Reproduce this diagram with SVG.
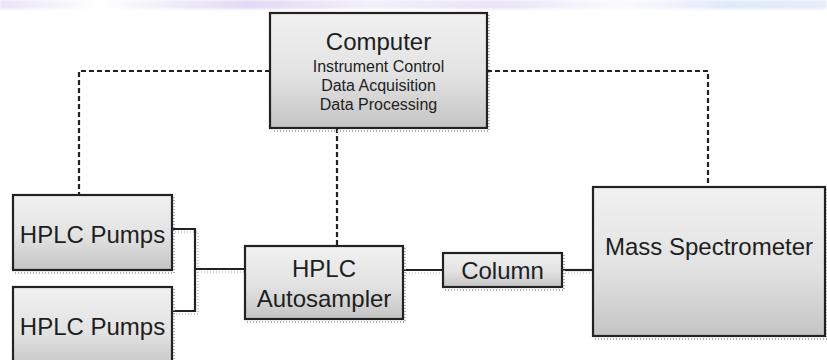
<svg xmlns="http://www.w3.org/2000/svg" width="827" height="360" viewBox="0 0 827 360">
  <defs>
    <linearGradient id="boxFill" x1="0" y1="0" x2="0" y2="1">
      <stop offset="0" stop-color="#f1f1f1"/>
      <stop offset="0.55" stop-color="#e2e2e2"/>
      <stop offset="1" stop-color="#c4c4c4"/>
    </linearGradient>
    <linearGradient id="band" x1="0" y1="0" x2="1" y2="0">
      <stop offset="0" stop-color="#e9e2f7"/>
      <stop offset="0.12" stop-color="#ffffff"/>
      <stop offset="0.3" stop-color="#e0d9f4"/>
      <stop offset="0.45" stop-color="#f3effa"/>
      <stop offset="0.6" stop-color="#e8e3f6"/>
      <stop offset="0.75" stop-color="#fbfbfe"/>
      <stop offset="0.88" stop-color="#e0e9fa"/>
      <stop offset="1" stop-color="#e6ecfa"/>
    </linearGradient>
    <filter id="soft" x="-5%" y="-50%" width="110%" height="200%">
      <feGaussianBlur stdDeviation="1.5"/>
    </filter>
  </defs>
  <style>
    .box { fill: url(#boxFill); stroke: #222; stroke-width: 2.2; }
    .shadow { fill: none; stroke: #9a9a9a; stroke-width: 1.5; stroke-dasharray: 1 2; }
    .wire { fill: none; stroke: #222; stroke-width: 2.2; }
    .wire-shadow { fill: none; stroke: #a8a8a8; stroke-width: 1.2; stroke-dasharray: 1 2; }
    .ctrl { fill: none; stroke: #222; stroke-width: 2.2; stroke-dasharray: 5 3; }
    .label { font-family: "Liberation Sans", Arial, sans-serif; fill: #1e1e1e; text-anchor: middle; }
    .big { font-size: 24px; }
    .small { font-size: 16px; }
  </style>

  <!-- faint band along the top edge -->
  <rect x="0" y="0" width="827" height="9" fill="url(#band)" filter="url(#soft)"/>

  <!-- connectors -->
  <g id="connectors">
    <!-- control links from the computer -->
    <path class="ctrl" d="M270 71 H79 V195"/>
    <path class="ctrl" d="M487 71 H708 V187"/>
    <path class="ctrl" d="M337 128 V246"/>
    <!-- flow path shadows -->
    <path class="wire-shadow" d="M172 232 H198 V314 H172 M198 272 H245 M403 273 H443 M562 273 H593"/>
    <!-- flow path -->
    <path class="wire" d="M172 229 H195 V311 H172"/>
    <path class="wire" d="M195 269 H245"/>
    <path class="wire" d="M403 270 H443"/>
    <path class="wire" d="M562 270 H593"/>
  </g>

  <g id="computer">
    <path class="shadow" d="M489 15 V131 H272"/>
    <rect class="box" x="270" y="13" width="217" height="115"/>
    <text class="label big" x="378.5" y="50">Computer</text>
    <text class="label small" x="378.5" y="72">Instrument Control</text>
    <text class="label small" x="378.5" y="91">Data Acquisition</text>
    <text class="label small" x="378.5" y="110">Data Processing</text>
  </g>

  <g id="pumps-1">
    <path class="shadow" d="M174 197 V273 H15"/>
    <rect class="box" x="13" y="195" width="159" height="75"/>
    <text class="label big" x="92.5" y="243">HPLC Pumps</text>
  </g>

  <g id="pumps-2">
    <path class="shadow" d="M174 289 V370"/>
    <rect class="box" x="13" y="287" width="159" height="83"/>
    <text class="label big" x="92.5" y="335">HPLC Pumps</text>
  </g>

  <g id="autosampler">
    <path class="shadow" d="M405 248 V322 H247"/>
    <rect class="box" x="245" y="246" width="158" height="73"/>
    <text class="label big" x="324" y="277">HPLC</text>
    <text class="label big" x="324" y="307">Autosampler</text>
  </g>

  <g id="column">
    <path class="shadow" d="M564 255 V290 H445"/>
    <rect class="box" x="443" y="253" width="119" height="34"/>
    <text class="label big" x="502.5" y="279">Column</text>
  </g>

  <g id="mass-spectrometer">
    <path class="shadow" d="M827 189 V339 H595"/>
    <rect class="box" x="593" y="187" width="232" height="149"/>
    <text class="label big" x="709" y="255">Mass Spectrometer</text>
  </g>
</svg>
